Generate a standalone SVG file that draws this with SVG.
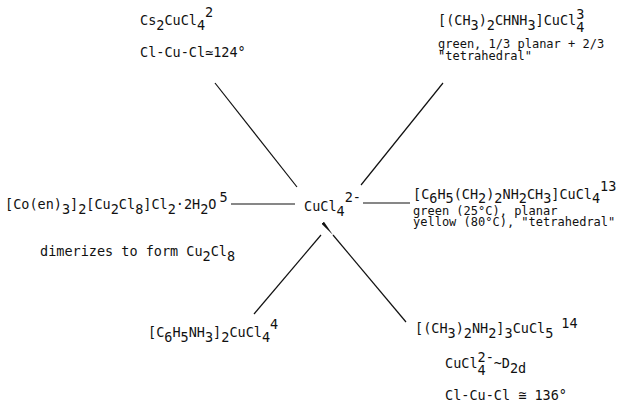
<svg xmlns="http://www.w3.org/2000/svg" width="640" height="411" viewBox="0 0 640 411">
<defs>
<style>
.t{font-family:"DejaVu Sans Mono","Liberation Mono",monospace;font-size:13.5px;fill:#111}
.m{font-size:12px}
.c{stroke:#111;stroke-width:1.2;fill:none}
</style>
<marker id="ah" viewBox="0 0 16 4" refX="0" refY="2" markerWidth="16" markerHeight="4" markerUnits="userSpaceOnUse" orient="auto-start-reverse">
<path d="M0,2 L16,0.4 L16,3.6 z" fill="#111"/>
</marker>
</defs>
<rect width="640" height="411" fill="#fff"/>
<g id="connectors">
<line class="c" x1="215" y1="83" x2="297" y2="187"/>
<line class="c" x1="443" y1="83" x2="361" y2="185"/>
<line class="c" x1="231" y1="204" x2="295" y2="204"/>
<line class="c" x1="363" y1="203" x2="410" y2="203"/>
<line class="c" x1="321" y1="235" x2="254" y2="314"/>
<line class="c" x1="333" y1="235" x2="406" y2="322" marker-start="url(#ah)"/>
</g>
<g id="center">
<text class="t" x="304" y="211">CuCl<tspan dy="5">4</tspan><tspan dy="-14">2-</tspan></text>
</g>
<g id="cs2cucl4">
<text class="t" x="140" y="25">Cs<tspan dy="5">2</tspan><tspan dy="-5">CuCl</tspan><tspan dy="5">4</tspan><tspan dy="-13">2</tspan></text>
<text class="t" x="140" y="57">Cl-Cu-Cl≃124°</text>
</g>
<g id="isopropyl">
<text class="t" x="438" y="25">[(CH<tspan dy="5">3</tspan><tspan dy="-5">)</tspan><tspan dy="5">2</tspan><tspan dy="-5">CHNH</tspan><tspan dy="5">3</tspan><tspan dy="-5">]CuCl</tspan><tspan dy="-6">3</tspan><tspan dx="-8.1" dy="13">4</tspan></text>
<text class="t m" x="438" y="48">green, 1/3 planar + 2/3</text>
<text class="t m" x="438" y="60">"tetrahedral"</text>
</g>
<g id="coen">
<text class="t" x="5" y="209">[Co(en)<tspan dy="5">3</tspan><tspan dy="-5">]</tspan><tspan dy="5">2</tspan><tspan dy="-5">[Cu</tspan><tspan dy="5">2</tspan><tspan dy="-5">Cl</tspan><tspan dy="5">8</tspan><tspan dy="-5">]Cl</tspan><tspan dy="5">2</tspan><tspan dy="-5">·2H</tspan><tspan dy="5">2</tspan><tspan dy="-5">O</tspan><tspan dx="3" dy="-7">5</tspan></text>
<text class="t" x="40" y="256">dimerizes to form Cu<tspan dy="5">2</tspan><tspan dy="-5">Cl</tspan><tspan dy="5">8</tspan></text>
</g>
<g id="phenethyl">
<text class="t" x="413" y="199">[C<tspan dy="4">6</tspan><tspan dy="-4">H</tspan><tspan dy="4">5</tspan><tspan dy="-4">(CH</tspan><tspan dy="4">2</tspan><tspan dy="-4">)</tspan><tspan dy="4">2</tspan><tspan dy="-4">NH</tspan><tspan dy="4">2</tspan><tspan dy="-4">CH</tspan><tspan dy="4">3</tspan><tspan dy="-4">]CuCl</tspan><tspan dy="4">4</tspan><tspan dy="-12">13</tspan></text>
<text class="t m" x="413" y="215">green (25°C), planar</text>
<text class="t m" x="413" y="226">yellow (80°C), "tetrahedral"</text>
</g>
<g id="anilinium">
<text class="t" x="148" y="337">[C<tspan dy="5">6</tspan><tspan dy="-5">H</tspan><tspan dy="5">5</tspan><tspan dy="-5">NH</tspan><tspan dy="5">3</tspan><tspan dy="-5">]</tspan><tspan dy="5">2</tspan><tspan dy="-5">CuCl</tspan><tspan dy="5">4</tspan><tspan dy="-13">4</tspan></text>
</g>
<g id="dimethylammonium">
<text class="t" x="415" y="333">[(CH<tspan dy="5">3</tspan><tspan dy="-5">)</tspan><tspan dy="5">2</tspan><tspan dy="-5">NH</tspan><tspan dy="5">2</tspan><tspan dy="-5">]</tspan><tspan dy="5">3</tspan><tspan dy="-5">CuCl</tspan><tspan dy="5">5</tspan><tspan dx="8" dy="-10">14</tspan></text>
<text class="t" x="445" y="368">CuCl<tspan dy="-6">2-</tspan><tspan dx="-16.2" dy="13">4</tspan><tspan dx="8" dy="-7">~D</tspan><tspan dy="5">2d</tspan></text>
<text class="t" x="445" y="400">Cl-Cu-Cl ≅ 136°</text>
</g>
</svg>
